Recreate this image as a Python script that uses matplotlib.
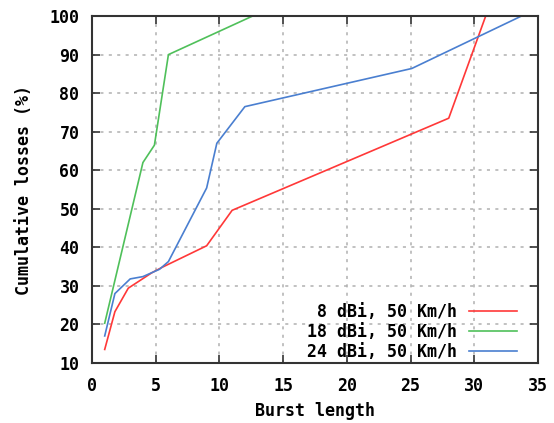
"""
Cumulative losses vs burst length
"""

import matplotlib.pyplot as plt

burst_8 = [1, 1.8, 2.85, 4.7, 5.5, 9, 11, 28, 30.9]
loss_8 = [13.5, 23.3, 29.4, 33.4, 34.8, 40.4, 49.6, 73.5, 100]

burst_18 = [1, 4, 4.9, 6, 12.6]
loss_18 = [20.3, 62, 66.5, 90, 100]

burst_24 = [1, 1.8, 3, 4, 5.3, 6, 9, 9.8, 12, 25.1, 33.7]
loss_24 = [17, 28, 31.8, 32.4, 34.3, 36.3, 55.4, 67, 76.5, 86.4, 100]

labels = ["8 dBi, 50 Km/h", "18 dBi, 50 Km/h", "24 dBi, 50 Km/h"]
colors = ["#ff3838", "#4fc05a", "#4a7fd0"]


def plot_data() -> None:
    plt.rcParams["font.family"] = ["DejaVu Sans Mono"]
    plt.rcParams["font.weight"] = "bold"
    plt.rcParams["font.size"] = 12

    fig = plt.figure(figsize=(5.54, 4.23), dpi=100)
    ax = fig.add_axes([0.166, 0.142, 0.805, 0.820])

    ax.plot(burst_8, loss_8, color=colors[0], lw=1.2, label=labels[0])
    ax.plot(burst_18, loss_18, color=colors[1], lw=1.2, label=labels[1])
    ax.plot(burst_24, loss_24, color=colors[2], lw=1.2, label=labels[2])

    ax.set_xlim(0, 35)
    ax.set_ylim(10, 100)
    ax.set_xticks(range(0, 36, 5))
    ax.set_yticks(range(10, 101, 10))
    ax.grid(True, color="#b0b0b0", linestyle=(0, (2, 3.5)), lw=1.1)
    ax.tick_params(direction="in", top=True, right=True, length=6, width=1.2,
                   color="#333333", labelsize=12)
    ax.tick_params(axis="y", pad=9)
    ax.tick_params(axis="x", pad=10)
    for sp in ax.spines.values():
        sp.set_color("#333333")
        sp.set_linewidth(1.5)

    ax.set_xlabel("Burst length", fontweight="bold", labelpad=5)
    ax.set_ylabel("Cumulative losses (%)", fontweight="bold", labelpad=12)

    ax.legend(loc="lower right", bbox_to_anchor=(0.953, 0.006),
              markerfirst=False, frameon=False, borderaxespad=0, borderpad=0,
              handlelength=2.9, labelspacing=0.12, fontsize=12,
              handletextpad=0.7)

    fig.savefig("out.png", dpi=100)


if __name__ == "__main__":
    plot_data()
